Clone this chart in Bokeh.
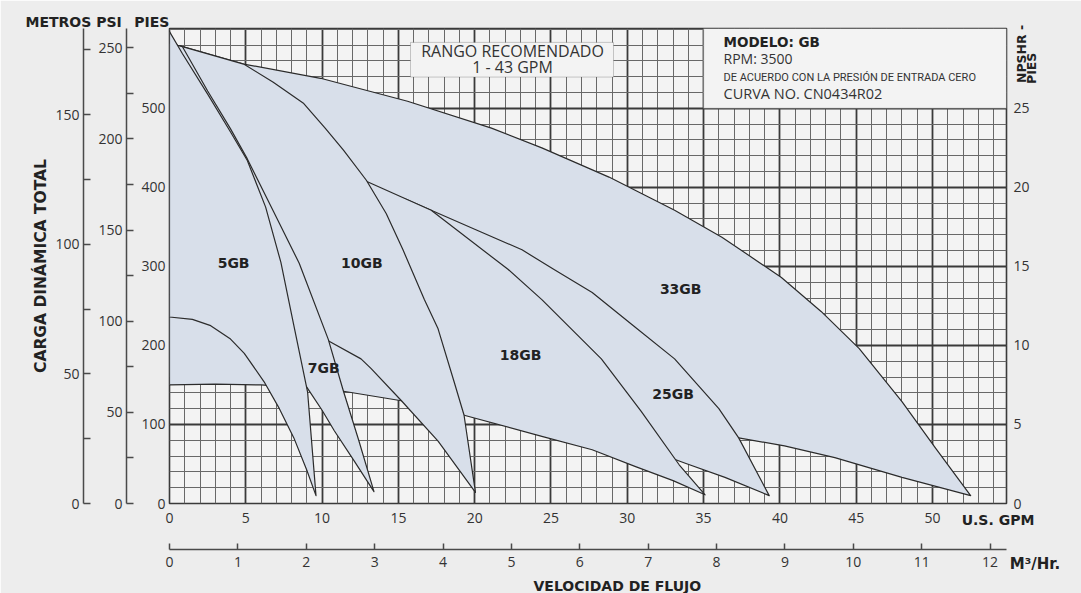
import numpy as np
from bokeh.plotting import figure
from bokeh.models import LinearAxis, Range1d, FixedTicker, Label, BoxAnnotation, Title
from bokeh.core.properties import value
from bokeh.embed import file_html
from bokeh.resources import INLINE

# ---------------- data ----------------
models = ["5GB", "7GB", "10GB", "18GB", "25GB", "33GB"]

gb5_top_gpm = [0, 0.85, 2.5, 4.0, 5.1, 6.3, 7.3, 8.15, 9.05, 9.6]
gb5_top_ft = [597, 569, 518, 470, 434, 375, 305, 225, 141, 10]
gb5_low_gpm = [0, 1.5, 2.7, 4.0, 4.9, 6.2, 7.2, 8.15, 9.0, 9.6]
gb5_low_ft = [236, 233, 225, 208, 190, 154, 120, 83, 42, 10]

gb7_top_gpm = [0, 0.85, 2.5, 4.0, 5.1, 6.8, 8.5, 10.4, 11.4, 12.4, 13.4]
gb7_top_ft = [582, 578, 522, 474, 436, 370, 304, 208, 142, 80, 15]
gb7_low_gpm = [0, 3, 5, 7, 8.2, 9.07, 10.0, 10.8, 12.1, 13.4]
gb7_low_ft = [265, 245, 222, 190, 170, 145, 118, 92, 54, 15]

gb10_top_gpm = [0, 0.85, 4.86, 6.8, 8.8, 10.2, 11.4, 12.9, 14.2, 15.3, 16.7, 17.6, 18.65, 19.3, 20.05]
gb10_top_ft = [582, 578, 556, 533, 506, 475, 447, 409, 367, 321, 258, 221, 154, 112, 14]
gb10_low_gpm = [0, 3, 6, 8.5, 10.4, 12.55, 13.2, 15.2, 17.6, 20.05]
gb10_low_ft = [290, 280, 260, 235, 206, 183, 171, 130, 79, 14]

gb18_top_gpm = [0, 4, 8, 10.5, 12.75, 17.15, 22.2, 24.4, 28.3, 30.9, 33.4, 35.1]
gb18_top_ft = [560, 530, 480, 445, 409, 371, 296, 258, 183, 117, 49, 11]
gb18_low_gpm = [0, 3, 6, 9, 11.4, 15.2, 19.25, 24.4, 27.7, 30.5, 33, 35.1]
gb18_low_ft = [150, 151, 150, 146, 142, 130, 112, 85, 68, 47, 29, 11]

gb25_top_gpm = [0, 5, 10, 13.5, 15.5, 17.15, 20, 23.1, 25.2, 27.7, 30.4, 33.1, 36, 37.3, 39.3]
gb25_top_ft = [555, 513, 448, 398, 385, 371, 347, 321, 296, 267, 225, 183, 120, 83, 10]
gb25_low_gpm = [0, 5, 10, 15, 20, 25, 30, 33.8, 36.4, 39.3]
gb25_low_ft = [160, 157, 152, 143, 130, 108, 78, 51, 33, 10]

gb33_top_gpm = [0, 0.85, 4.86, 9.9, 15.6, 21.1, 24.4, 28.8, 33.1, 36.2, 40.1, 42.7, 45.2, 48.0, 50.2, 52.5]
gb33_top_ft = [582, 578, 556, 538, 509, 475, 450, 413, 371, 337, 286, 243, 196, 129, 70, 10]
gb33_low_gpm = [0, 10, 20, 25, 30, 35, 37.3, 40.3, 43.6, 48, 52.5]
gb33_low_ft = [165, 155, 135, 120, 103, 90, 83, 73, 58, 33, 10]

label_gpm = [4.2, 10.1, 12.6, 23.0, 33.0, 33.5]
label_ft = [304, 171, 304, 188, 139, 271]

gpm_ticks = [0, 5, 10, 15, 20, 25, 30, 35, 40, 45, 50]
gpm_minor = list(range(0, 55))
pies_ticks = [0, 100, 200, 300, 400, 500]
pies_minor = list(range(0, 601, 20))
psi_ticks = [0, 50, 100, 150, 200, 250]
psi_minor = [25, 75, 125, 175, 225]
metros_ticks = [0, 50, 100, 150]
metros_minor = [25, 75, 125, 175]
npshr_ticks = [0, 5, 10, 15, 20, 25]
m3_ticks = list(range(0, 13))

# ---------------- layout constants ----------------
X_MAX = 54.85
Y_MAX = 601.0
M3_MAX = 12.24
FT_PER_PSI = 2.3067
FT_PER_M = 3.2808
FT_PER_NPSH = 20.0

FONT = "Open Sans"
BFONT = "DejaVu Sans"
TXT = "#333333"
DARK = "#222222"
AXC = "#4a4a4a"
FILL = "#d8dfea"
BORDER = "#ededed"

W, H = 1081, 593
FRAME_L, FRAME_R, FRAME_T, FRAME_B = 169, 1006, 28, 507


def gx(px):
    return (px - FRAME_L) / (FRAME_R - FRAME_L) * X_MAX


def gy(py):
    return (FRAME_B - py) / (FRAME_B - FRAME_T) * Y_MAX


p = figure(width=W, height=H, x_range=Range1d(0, X_MAX), y_range=Range1d(0, Y_MAX),
           output_backend="svg", toolbar_location=None, title_location=None,
           min_border_left=FRAME_L, min_border_right=W - FRAME_R,
           min_border_top=FRAME_T, min_border_bottom=H - FRAME_B,
           background_fill_color="#f3f3f3", border_fill_color=BORDER,
           outline_line_color="#3a3a3a", outline_line_width=1.6)

p.extra_y_ranges = {
    "psi": Range1d(0, Y_MAX / FT_PER_PSI),
    "m": Range1d(0, Y_MAX / FT_PER_M),
    "npshr": Range1d(0, Y_MAX / FT_PER_NPSH),
}
p.extra_x_ranges = {"m3": Range1d(0, M3_MAX)}


def style_labels(ax, standoff):
    ax.major_label_text_font = FONT
    ax.major_label_text_font_size = "14px"
    ax.major_label_text_color = TXT
    ax.major_label_standoff = standoff


def no_ticks(ax):
    ax.major_tick_in = 0
    ax.major_tick_out = 0
    ax.minor_tick_in = 0
    ax.minor_tick_out = 0


# main axes
xax = p.xaxis[0]
xax.ticker = FixedTicker(ticks=gpm_ticks, minor_ticks=gpm_minor)
xax.axis_line_color = None
no_ticks(xax)
style_labels(xax, 9)

yax = p.yaxis[0]
yax.ticker = FixedTicker(ticks=pies_ticks, minor_ticks=pies_minor)
yax.axis_line_color = None
no_ticks(yax)
style_labels(yax, 4)

# grids
for g in (p.xgrid[0], p.ygrid[0]):
    g.grid_line_color = "#3a3a3a"
    g.grid_line_width = 1.8
    g.minor_grid_line_color = "#686868"
    g.minor_grid_line_width = 1.0


def spacer(size, **kw):
    # an empty axis used only to reserve room between two stacked axes
    return LinearAxis(ticker=FixedTicker(ticks=[0]), major_label_overrides={0: ""},
                      major_label_text_font_size="1px", axis_line_color=None,
                      major_tick_out=size, major_tick_in=0, minor_tick_out=0, minor_tick_in=0,
                      major_tick_line_color=BORDER, major_tick_line_width=1,
                      major_label_standoff=0, **kw)


def scale_axis(range_name, ticks, minor):
    ax = LinearAxis(y_range_name=range_name, ticker=FixedTicker(ticks=ticks, minor_ticks=minor))
    ax.axis_line_color = AXC
    ax.axis_line_width = 1.5
    ax.major_tick_in = 7
    ax.major_tick_out = 0
    ax.minor_tick_in = 7
    ax.minor_tick_out = 0
    ax.major_tick_line_color = AXC
    ax.minor_tick_line_color = AXC
    ax.major_tick_line_width = 1.5
    ax.minor_tick_line_width = 1.5
    style_labels(ax, 4)
    return ax


def name_axis(tick, text, standoff, size="14px", orientation="horizontal", **kw):
    # a one-tick axis whose only tick label is a bold caption placed beside another axis
    ax = LinearAxis(ticker=FixedTicker(ticks=[tick]), major_label_overrides={tick: text}, **kw)
    ax.axis_line_color = None
    no_ticks(ax)
    ax.major_label_text_font = BFONT
    ax.major_label_text_font_style = "bold"
    ax.major_label_text_font_size = size
    ax.major_label_text_color = DARK
    ax.major_label_standoff = standoff
    ax.major_label_orientation = orientation
    return ax


p.add_layout(spacer(12), "left")
psi_ax = scale_axis("psi", psi_ticks, psi_minor)
p.add_layout(psi_ax, "left")
p.add_layout(spacer(12), "left")
m_ax = scale_axis("m", metros_ticks, metros_minor)
m_ax.axis_label = "CARGA DINÁMICA TOTAL"
m_ax.axis_label_text_font = BFONT
m_ax.axis_label_text_font_style = "bold"
m_ax.axis_label_text_font_size = "15.5px"
m_ax.axis_label_text_color = DARK
m_ax.axis_label_standoff = 2
p.add_layout(m_ax, "left")

# right NPSHR axis and its rotated caption
n_ax = LinearAxis(y_range_name="npshr", ticker=FixedTicker(ticks=npshr_ticks))
n_ax.axis_line_color = None
no_ticks(n_ax)
style_labels(n_ax, 7)
p.add_layout(n_ax, "right")
p.add_layout(name_axis(gy(83) / FT_PER_NPSH, "NPSHR -", -11, size="12.5px",
                       orientation=np.pi / 2, y_range_name="npshr"), "right")
p.add_layout(name_axis(gy(84) / FT_PER_NPSH, "PIES", -8, size="12.5px",
                       orientation=np.pi / 2, y_range_name="npshr"), "right")

# bottom: GPM caption, m3/hr axis and its caption
p.add_layout(name_axis(gx(997.5), "U.S. GPM", -14), "below")
p.add_layout(spacer(19), "below")
m3_ax = LinearAxis(x_range_name="m3", ticker=FixedTicker(ticks=m3_ticks))
m3_ax.axis_line_color = AXC
m3_ax.axis_line_width = 1.5
m3_ax.major_tick_in = 6
m3_ax.major_tick_out = 0
m3_ax.major_tick_line_color = AXC
m3_ax.major_tick_line_width = 1.5
style_labels(m3_ax, 7)
p.add_layout(m3_ax, "below")
p.add_layout(name_axis(X_MAX - 0.01, "\u00a0" * 11 + "M³/Hr.", -15, size="15px"), "below")

p.add_layout(Title(text="VELOCIDAD DE FLUJO", align="left", offset=533 - FRAME_L, standoff=0,
                   text_font=BFONT, text_font_size="14px", text_font_style="bold",
                   text_color=DARK), "below")
p.add_layout(Title(text="METROS PSI\u00a0\u00a0\u2009PIES", align="left", offset=25 - FRAME_L,
                   standoff=-2, text_font=BFONT, text_font_size="14px", text_font_style="bold",
                   text_color=DARK), "above")

# ---------------- curves (drawn high-flow first, low-flow on top) ----------------
curves = {
    "33GB": (gb33_top_gpm, gb33_top_ft, gb33_low_gpm, gb33_low_ft),
    "25GB": (gb25_top_gpm, gb25_top_ft, gb25_low_gpm, gb25_low_ft),
    "18GB": (gb18_top_gpm, gb18_top_ft, gb18_low_gpm, gb18_low_ft),
    "10GB": (gb10_top_gpm, gb10_top_ft, gb10_low_gpm, gb10_low_ft),
    "7GB": (gb7_top_gpm, gb7_top_ft, gb7_low_gpm, gb7_low_ft),
    "5GB": (gb5_top_gpm, gb5_top_ft, gb5_low_gpm, gb5_low_ft),
}
for name, (tg, tf, lg, lf) in curves.items():
    xs = list(tg) + list(lg)[::-1]
    ys = list(tf) + list(lf)[::-1]
    p.patch(xs, ys, fill_color=FILL, fill_alpha=1.0, line_color="#2b2b2b",
            line_width=1.2, line_join="round")

p.text(x=label_gpm, y=label_ft, text=models, text_font=value(BFONT), text_font_style="bold",
       text_font_size="14px", text_align="center", text_baseline="middle", text_color=DARK)

# ---------------- boxes ----------------
p.add_layout(BoxAnnotation(left=35, bottom=500, fill_color="#f3f3f3", fill_alpha=1.0,
                           line_color="#555555", line_width=1.2))
p.add_layout(BoxAnnotation(left=gx(410), right=gx(613), bottom=gy(77), top=gy(42),
                           fill_color="#f3f3f3", fill_alpha=1.0, line_color="#555555", line_width=1.0))


def lab(text, px, py, size="14px", bold=False, align="left", color=TXT, font=FONT):
    p.add_layout(Label(x=gx(px), y=gy(py), text=text, text_font=font, text_font_size=size,
                       text_font_style="bold" if bold else "normal", text_align=align,
                       text_baseline="middle", text_color=color))


lab("RANGO RECOMENDADO", 512, 51, size="16px", align="center")
lab("1 - 43 GPM", 512, 67, size="16px", align="center")
lab("MODELO: GB", 723, 42, size="13.5px", bold=True, color=DARK, font=BFONT)
lab("RPM: 3500", 723, 58.5, size="14px")
lab("DE ACUERDO CON LA PRESIÓN DE ENTRADA CERO", 723, 77, size="11px", font="Roboto")
lab("CURVA NO. CN0434R02", 723, 93.5, size="14.5px")

open("out.html", "w").write(file_html(p, INLINE))
